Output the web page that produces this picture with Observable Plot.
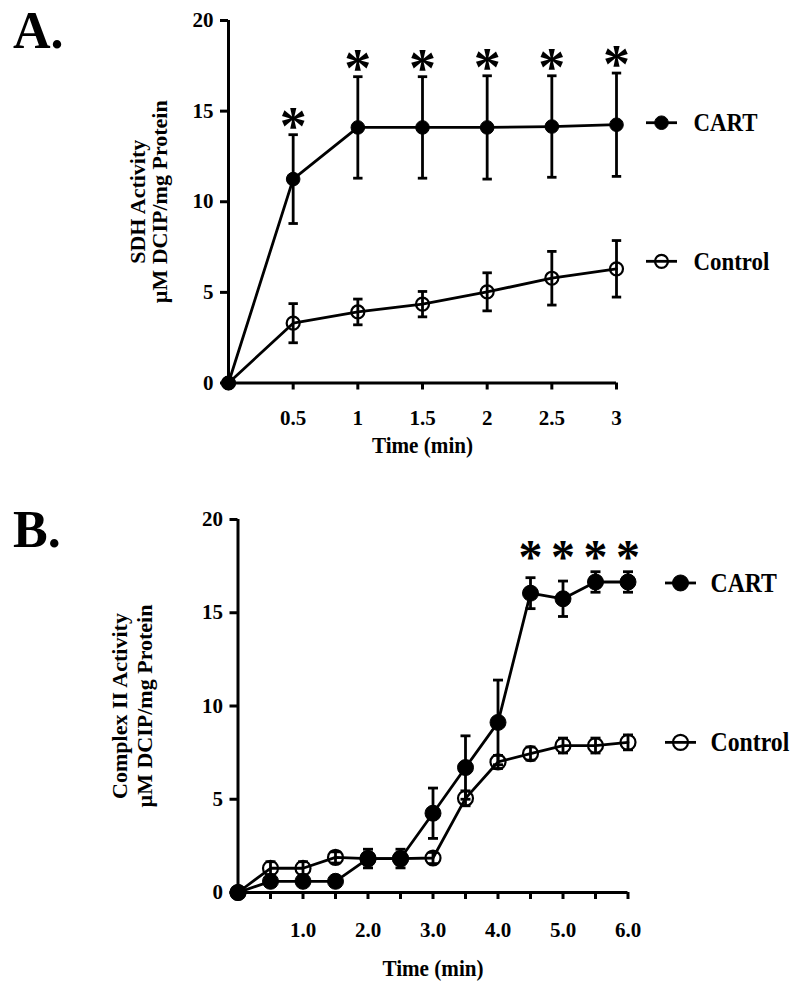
<!DOCTYPE html>
<html>
<head>
<meta charset="utf-8">
<script src="https://cdn.jsdelivr.net/npm/d3@7"></script>
<script src="https://cdn.jsdelivr.net/npm/@observablehq/plot@0.6"></script>
<style>
  body { margin: 0; background: #fff; }
  #wrap { position: relative; width: 800px; height: 995px; overflow: hidden; background: #fff;
          font-family: "Liberation Serif", "Times New Roman", serif; color: #000; }
  .panel { position: absolute; left: 0; z-index: 1; }
  .letter { position: absolute; left: 13px; font-size: 52px; font-weight: bold; line-height: 52px; z-index: 2; }
</style>
</head>
<body>
<div id="wrap">
  <div class="letter" style="top:5px">A.</div>
  <div class="letter" style="top:504px">B.</div>
</div>
<script>
// ---------- DATA ----------
const seriesNames = ["CART", "Control"];

// Panel A: SDH activity
const timesA = [0, 0.5, 1, 1.5, 2, 2.5, 3];
const cartA = [0, 11.25, 14.1, 14.1, 14.1, 14.15, 14.25];
const cartAErr = [0, 2.45, 2.8, 2.8, 2.85, 2.8, 2.85];
const controlA = [0, 3.3, 3.92, 4.35, 5.03, 5.78, 6.3];
const controlAErr = [0, 1.08, 0.71, 0.7, 1.05, 1.48, 1.56];
const sigA = [0.5, 1, 1.5, 2, 2.5, 3];
const xTicksA = [0.5, 1, 1.5, 2, 2.5, 3];
const yTicksA = [0, 5, 10, 15, 20];
const yLabelA = "SDH Activity\nµM DCIP/mg Protein";

// Panel B: Complex II activity
const timesB = [0, 0.5, 1, 1.5, 2, 2.5, 3, 3.5, 4, 4.5, 5, 5.5, 6];
const cartB = [0, 0.6, 0.6, 0.6, 1.82, 1.82, 4.25, 6.7, 9.12, 16.05, 15.75, 16.65, 16.65];
const cartBErr = [0, 0.2, 0.2, 0.2, 0.5, 0.5, 1.35, 1.7, 2.27, 0.83, 0.95, 0.55, 0.55];
const controlB = [0, 1.3, 1.3, 1.88, 1.82, 1.82, 1.85, 5.05, 7.0, 7.45, 7.88, 7.88, 8.05];
const controlBErr = [0, 0.35, 0.35, 0.3, 0.3, 0.3, 0.3, 0.4, 0.35, 0.35, 0.4, 0.4, 0.4];
const sigB = [4.5, 5, 5.5, 6];
const xTickMarksB = [0.5, 1, 1.5, 2, 2.5, 3, 3.5, 4, 4.5, 5, 5.5, 6];
const xTickLabelsB = [1, 2, 3, 4, 5, 6];
const yTicksB = [0, 5, 10, 15, 20];
const yLabelB = "Complex II Activity\nµM DCIP/mg Protein";

const xTitle = "Time (min)";

// ---------- HELPERS ----------
const capSymbol = {
  draw(context, size) {
    const r = Math.sqrt(size / Math.PI);
    context.moveTo(-r, 0);
    context.lineTo(r, 0);
  }
};

function makeRows(times, vals, errs, series) {
  return times.map((t, i) => ({t, v: vals[i], e: errs[i], lo: vals[i] - errs[i], hi: vals[i] + errs[i], series}));
}

// horizontally condense some texts (the original typesetting is narrow)
function condense(svg, k) {
  svg.querySelectorAll('[aria-description="condensed"] text').forEach(t => {
    let tr = t.getAttribute("transform") || "";
    const xa = t.getAttribute("x");
    if (xa !== null && !isNaN(+xa) && +xa !== 0) {
      tr += ` translate(${+xa},0)`;
      t.removeAttribute("x");
    }
    t.setAttribute("transform", `${tr} scale(${k},1)`);
  });
}

function panel(cfg) {
  const cart = makeRows(cfg.times, cfg.cart, cfg.cartErr, seriesNames[0]);
  const ctrl = makeRows(cfg.times, cfg.control, cfg.controlErr, seriesNames[1]);
  const all = ctrl.concat(cart);
  const withErr = all.filter(d => d.e > 0);
  const xmax = d3.max(cfg.times);
  const ymax = d3.max(cfg.yTicks);
  const lastCart = [cart[cart.length - 1]];
  const lastCtrl = [ctrl[ctrl.length - 1]];
  const sigRows = cart.filter(d => cfg.sig.includes(d.t));
  const lw = 2.8;
  const aw = 3;

  const marks = [
    // axis lines
    Plot.ruleY([0], {x1: 0, x2: xmax, stroke: "black", strokeWidth: aw}),
    Plot.ruleX([0], {y1: 0, y2: ymax, stroke: "black", strokeWidth: aw}),
    Plot.axisY({ticks: cfg.yTicks, tickSize: 8, tickPadding: 7, fontSize: 21, strokeWidth: aw, label: null}),
    ...cfg.xAxes,
    // lines
    Plot.line(all, {x: "t", y: "v", z: "series", stroke: "black", strokeWidth: lw}),
    // error bars
    Plot.ruleX(withErr, {x: "t", y1: "lo", y2: "hi", stroke: "black", strokeWidth: lw}),
    Plot.dot(withErr, {x: "t", y: "lo", symbol: capSymbol, r: cfg.cap, stroke: "black", fill: "none", strokeWidth: lw}),
    Plot.dot(withErr, {x: "t", y: "hi", symbol: capSymbol, r: cfg.cap, stroke: "black", fill: "none", strokeWidth: lw}),
    // markers
    Plot.dot(ctrl, {x: "t", y: "v", r: cfg.rCtrl, stroke: "black", fill: "none", strokeWidth: 2.2}),
    Plot.dot(cart, {x: "t", y: "v", r: cfg.rCart, stroke: "black", fill: "black", strokeWidth: 1}),
    // significance asterisks
    cfg.starMark(sigRows),
    // legend (next to the last point of each series)
    Plot.dot(lastCart, {x: "t", y: "v", dx: cfg.legDx, dy: cfg.legDyCart, symbol: capSymbol, r: 15.5, stroke: "black", fill: "none", strokeWidth: lw}),
    Plot.dot(lastCart, {x: "t", y: "v", dx: cfg.legDx, dy: cfg.legDyCart, r: cfg.rCart, fill: "black", stroke: "black", strokeWidth: 1}),
    Plot.text(lastCart, {x: "t", y: "v", dx: cfg.legTextDx, dy: cfg.legDyCart, text: "series", textAnchor: "start", fontSize: cfg.legFont, ariaDescription: "condensed"}),
    Plot.dot(lastCtrl, {x: "t", y: "v", dx: cfg.legDx, dy: cfg.legDyCtrl, symbol: capSymbol, r: 15.5, stroke: "black", fill: "none", strokeWidth: lw}),
    Plot.dot(lastCtrl, {x: "t", y: "v", dx: cfg.legDx, dy: cfg.legDyCtrl, r: cfg.rCtrl, fill: "none", stroke: "black", strokeWidth: 2.2}),
    Plot.text(lastCtrl, {x: "t", y: "v", dx: cfg.legTextDx, dy: cfg.legDyCtrl, text: "series", textAnchor: "start", fontSize: cfg.legFont, ariaDescription: "condensed"}),
    // axis titles
    Plot.text([cfg.yLabel], {text: d => d, frameAnchor: "left", textAnchor: "middle", rotate: -90, dx: cfg.yLabelDx, fontSize: 22, lineHeight: cfg.yLabelLH}),
    Plot.text([xTitle], {text: d => d, frameAnchor: "bottom", dy: cfg.xTitleDy, fontSize: 24, ariaDescription: "condensed"})
  ];

  const svg = Plot.plot({
    width: 800,
    height: cfg.height,
    marginLeft: cfg.ml, marginRight: cfg.mr, marginTop: cfg.mt, marginBottom: cfg.mb,
    x: {domain: [0, xmax], label: null},
    y: {domain: [0, ymax], label: null},
    style: {fontFamily: '"Liberation Serif", "Times New Roman", serif', fontWeight: "bold", fontSize: "20px", color: "black", background: "none", overflow: "visible"},
    marks
  });
  condense(svg, 0.88);
  return svg;
}

// ---------- PANEL A ----------
const svgA = panel({
  times: timesA, cart: cartA, cartErr: cartAErr, control: controlA, controlErr: controlAErr,
  sig: sigA, yTicks: yTicksA, yLabel: yLabelA,
  height: 480, ml: 228, mr: 184, mt: 20, mb: 97.5,
  cap: 4.7, rCart: 6.8, rCtrl: 6.5,
  legDx: 45, legTextDx: 77, legDyCart: -2, legDyCtrl: -7.5, legFont: 26,
  yLabelDx: -80, yLabelLH: 1.0, xTitleDy: 69.5,
  xAxes: [Plot.axisX({ticks: xTicksA, tickSize: 7, tickPadding: 20, fontSize: 21, strokeWidth: 3, label: null, tickFormat: d => String(d)})],
  starMark: rows => Plot.text(rows, {x: "t", y: "hi", text: () => "*", fontSize: 54, dy: -8})
});
svgA.classList.add("panel");
svgA.style.top = "0px";
document.getElementById("wrap").appendChild(svgA);

// ---------- PANEL B ----------
const svgB = panel({
  times: timesB, cart: cartB, cartErr: cartBErr, control: controlB, controlErr: controlBErr,
  sig: sigB, yTicks: yTicksB, yLabel: yLabelB,
  height: 515, ml: 237.5, mr: 172.5, mt: 39, mb: 103,
  cap: 5, rCart: 8, rCtrl: 7.5,
  legDx: 52.5, legTextDx: 82.5, legDyCart: 1, legDyCtrl: 0, legFont: 27,
  yLabelDx: -107, yLabelLH: 1.14, xTitleDy: 83,
  xAxes: [
    Plot.axisX({ticks: xTickMarksB, tickSize: 7, strokeWidth: 3, label: null, tickFormat: () => ""}),
    Plot.axisX({ticks: xTickLabelsB, tickSize: 0, tickPadding: 30, fontSize: 21, label: null, tickFormat: d => d.toFixed(1)})
  ],
  starMark: rows => Plot.text(rows, {x: "t", frameAnchor: "top", text: () => "*", fontSize: 48, dy: 19.5})
});
svgB.classList.add("panel");
svgB.style.top = "480px";
document.getElementById("wrap").appendChild(svgB);
</script>
</body>
</html>
